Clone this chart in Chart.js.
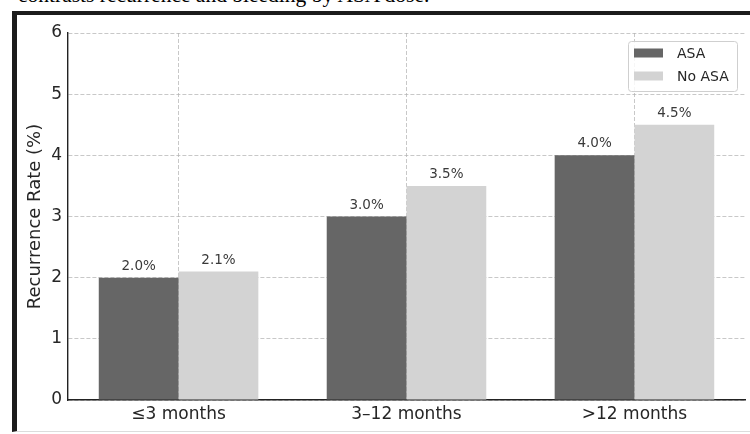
<!DOCTYPE html>
<html>
<head>
<meta charset="utf-8">
<script src="https://cdn.jsdelivr.net/npm/chart.js@4/dist/chart.umd.min.js"></script>
<style>
  html, body { margin: 0; padding: 0; background: #fff; }
  body { width: 750px; height: 434px; overflow: hidden; position: relative; }
  #caption {
    position: absolute; left: 18px; top: -15px;
    font-family: "Liberation Serif", "Times New Roman", serif;
    font-size: 21.5px; line-height: 1; color: #000; white-space: nowrap;
  }
  #frame {
    position: absolute; left: 12px; top: 11px;
    width: 800px; height: 416px;
    border-top: 4px solid #1c1c1c; border-left: 5px solid #1c1c1c;
    border-bottom: 1px solid #dcdcdc;
  }
  #c { display: block; }
</style>
</head>
<body>
<div id="caption">contrasts recurrence and bleeding by ASA dose.</div>
<div id="frame"><canvas id="c" width="733" height="416"></canvas></div>
<script>
// Recurrence rate by time since event, with and without ASA
const categories = ['≤3 months', '3–12 months', '>12 months'];
const asaRates = [2.0, 3.0, 4.0];
const noAsaRates = [2.1, 3.5, 4.5];
const seriesNames = ['ASA', 'No ASA'];
const yTicks = [0, 1, 2, 3, 4, 5, 6];

const seriesColors = ['#666666', '#d3d3d3'];
const gridColor = 'rgba(176,176,176,0.7)';
const spineColor = '#222';
const textColor = '#262626';
const FONT = '"DejaVu Sans", Verdana, sans-serif';

const toPoints = arr => arr.map((v, i) => ({ x: i, y: v }));

// Percent labels above each bar
const valueLabels = {
  id: 'valueLabels',
  afterDatasetsDraw(chart) {
    const ctx = chart.ctx;
    ctx.save();
    ctx.font = '13.5px ' + FONT;
    ctx.fillStyle = '#3a3a3a';
    ctx.textAlign = 'center';
    ctx.textBaseline = 'alphabetic';
    chart.data.datasets.forEach((ds, di) => {
      const meta = chart.getDatasetMeta(di);
      meta.data.forEach((bar, i) => {
        ctx.fillText(ds.data[i].y.toFixed(1) + '%', bar.x, bar.y - 8);
      });
    });
    ctx.restore();
  }
};

// Framed legend in the upper right of the plot
const boxLegend = {
  id: 'boxLegend',
  afterDraw(chart) {
    const ctx = chart.ctx;
    const ca = chart.chartArea;
    const w = 109, h = 50;
    const x0 = ca.right - 8 - w, y0 = ca.top + 8;
    ctx.save();
    ctx.beginPath();
    ctx.roundRect(x0 + 0.5, y0 + 0.5, w, h, 3);
    ctx.fillStyle = 'rgba(255,255,255,0.85)';
    ctx.fill();
    ctx.strokeStyle = '#cfcfcf';
    ctx.lineWidth = 1;
    ctx.stroke();
    ctx.font = '14px ' + FONT;
    ctx.textBaseline = 'middle';
    ctx.textAlign = 'left';
    chart.data.datasets.forEach((ds, i) => {
      const cy = y0 + 12 + i * 23;
      ctx.fillStyle = ds.backgroundColor;
      ctx.fillRect(x0 + 6, cy - 4.5, 29, 9);
      ctx.fillStyle = textColor;
      ctx.fillText(ds.label, x0 + 49, cy + 1);
    });
    ctx.restore();
  }
};

new Chart(document.getElementById('c'), {
  type: 'bar',
  data: {
    datasets: [
      { label: seriesNames[0], data: toPoints(asaRates), backgroundColor: seriesColors[0] },
      { label: seriesNames[1], data: toPoints(noAsaRates), backgroundColor: seriesColors[1] }
    ]
  },
  options: {
    responsive: false,
    animation: false,
    devicePixelRatio: 1,
    categoryPercentage: 0.7,
    barPercentage: 1.0,
    layout: { padding: { top: 18, right: 5, left: 0, bottom: 0 } },
    plugins: { legend: { display: false }, tooltip: { enabled: false } },
    scales: {
      x: {
        type: 'linear',
        min: -0.485,
        max: 2.485,
        offset: false,
        z: 1,
        afterBuildTicks: s => { s.ticks = categories.map((_, i) => ({ value: i })); },
        afterFit: s => { s.height = 31; },
        grid: { offset: false, color: gridColor, lineWidth: 1, drawTicks: false },
        border: { display: true, color: spineColor, width: 1.4, dash: [4, 2] },
        ticks: {
          padding: 4,
          color: textColor,
          font: { family: FONT, size: 17 },
          autoSkip: false,
          maxRotation: 0,
          callback: v => categories[v]
        }
      },
      y: {
        min: 0,
        max: 6,
        z: 1,
        afterBuildTicks: s => { s.ticks = yTicks.map(v => ({ value: v })); },
        afterFit: s => { s.width = 51; },
        grid: { color: gridColor, lineWidth: 1, drawTicks: false },
        border: { display: true, color: spineColor, width: 1.4, dash: [4, 2] },
        ticks: {
          padding: 6,
          color: textColor,
          font: { family: FONT, size: 17 }
        },
        title: {
          display: true,
          text: 'Recurrence Rate (%)',
          color: textColor,
          font: { family: FONT, size: 18 },
          padding: { top: 8, bottom: 0 }
        }
      }
    }
  },
  plugins: [valueLabels, boxLegend]
});
</script>
</body>
</html>
